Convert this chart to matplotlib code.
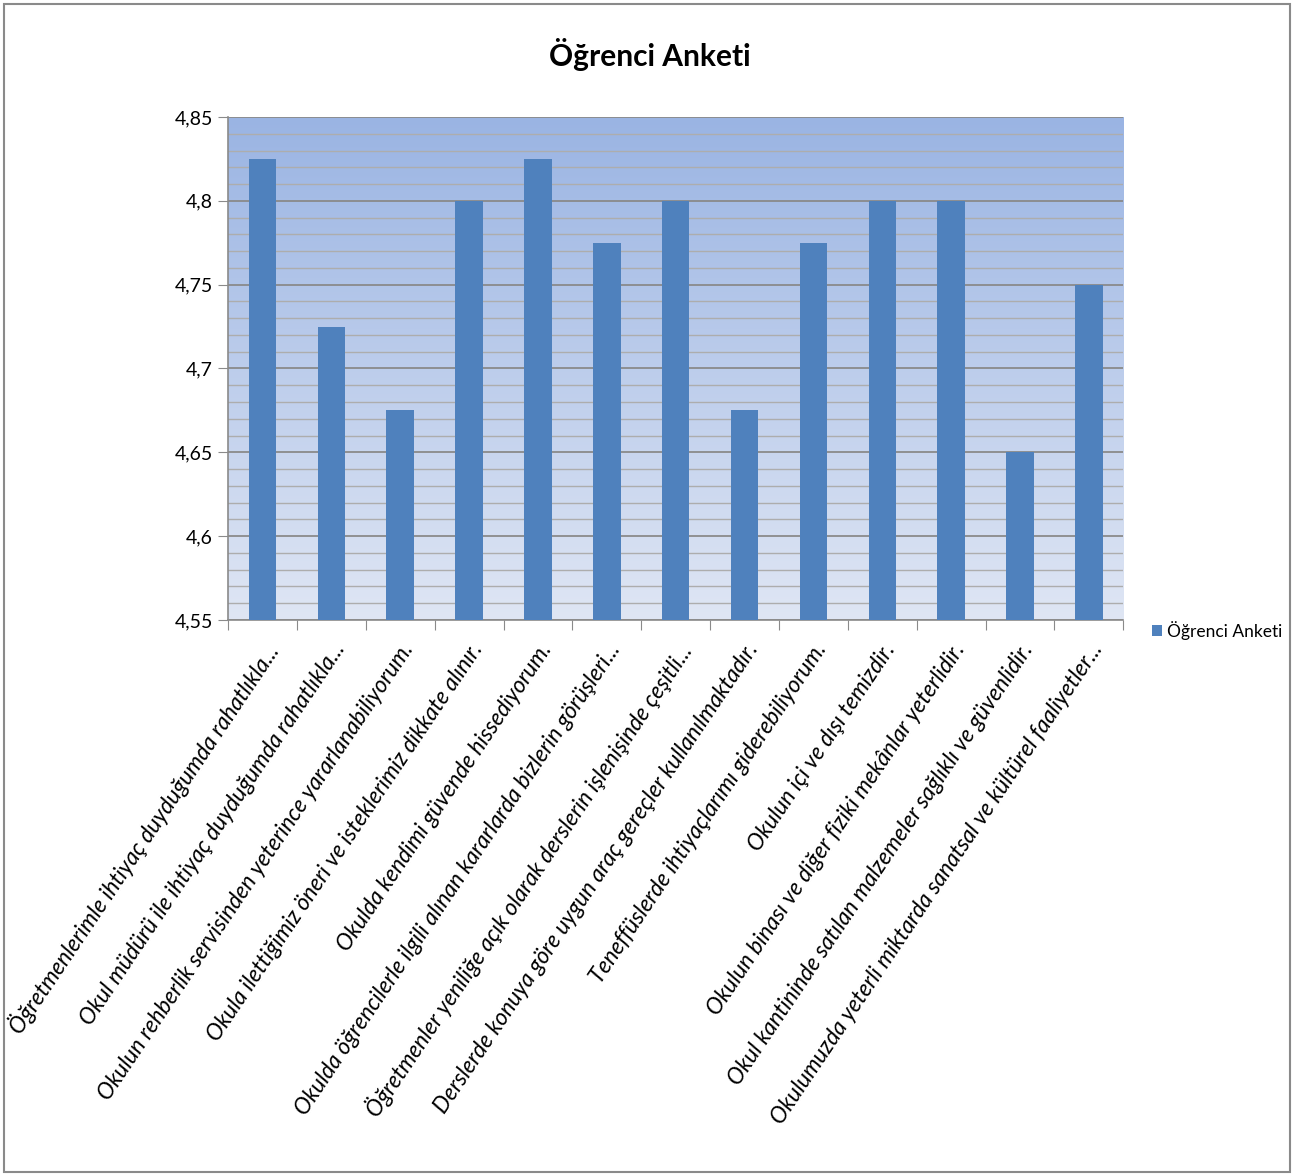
import numpy as np
import matplotlib
matplotlib.use("Agg")
import matplotlib.pyplot as plt
from matplotlib.ticker import MultipleLocator, FuncFormatter
from matplotlib.patches import Rectangle
from matplotlib.colors import LinearSegmentedColormap

# === Veriler ===
sorular = [
    "Öğretmenlerimle ihtiyaç duyduğumda rahatlıkla...",
    "Okul müdürü ile ihtiyaç duyduğumda rahatlıkla...",
    "Okulun rehberlik servisinden yeterince yararlanabiliyorum.",
    "Okula ilettiğimiz öneri ve isteklerimiz dikkate alınır.",
    "Okulda kendimi güvende hissediyorum.",
    "Okulda öğrencilerle ilgili alınan kararlarda bizlerin görüşleri...",
    "Öğretmenler yeniliğe açık olarak derslerin işlenişinde çeşitli...",
    "Derslerde konuya göre uygun araç gereçler kullanılmaktadır.",
    "Teneffüslerde ihtiyaçlarımı giderebiliyorum.",
    "Okulun içi ve dışı temizdir.",
    "Okulun binası ve diğer fiziki mekânlar yeterlidir.",
    "Okul kantininde satılan malzemeler sağlıklı ve güvenlidir.",
    "Okulumuzda yeterli miktarda sanatsal ve kültürel faaliyetler...",
]
puanlar = [4.825, 4.725, 4.675, 4.8, 4.825, 4.775, 4.8, 4.675, 4.775, 4.8, 4.8, 4.65, 4.75]
seri_adi = "Öğrenci Anketi"

font = ["Lato", "DejaVu Sans"]
plt.rcParams["font.family"] = font

fig = plt.figure(figsize=(13.12, 11.76), dpi=100)
ax = fig.add_axes([0.1738, 0.4728, 0.6824, 0.4277])

# gradyan arka plan
grad = np.linspace(0, 1, 256).reshape(-1, 1)
cmap = LinearSegmentedColormap.from_list("bg", ["#9ab4e3", "#dfe6f4"])
ax.imshow(grad, cmap=cmap, aspect="auto", extent=[0, 1, 0, 1],
          transform=ax.transAxes, zorder=0)

x = np.arange(len(puanlar))
ax.bar(x, puanlar, width=0.4, color="#4f81bd", zorder=3, label=seri_adi)

ax.set_xlim(-0.5, len(puanlar) - 0.5)
ax.set_ylim(4.55, 4.85)
ax.yaxis.set_major_locator(MultipleLocator(0.05))
ax.yaxis.set_minor_locator(MultipleLocator(0.01))
ax.yaxis.set_major_formatter(FuncFormatter(lambda v, p: f"{v:.3f}".rstrip("0").rstrip(".").replace(".", ",")))
ax.grid(axis="y", which="major", color="#8a8a8a", linewidth=1.3, zorder=1)
ax.grid(axis="y", which="minor", color="#adadad", linewidth=1.0, zorder=1)
ax.set_axisbelow(True)

for s in ["top", "right"]:
    ax.spines[s].set_visible(False)
for s in ["left", "bottom"]:
    ax.spines[s].set_color("#8a8a8a")
    ax.spines[s].set_linewidth(1.2)

ax.tick_params(axis="y", which="major", length=7, color="#8a8a8a", labelsize=14, pad=4)
ax.tick_params(axis="y", which="minor", length=0)

# x ekseni: kategori sınırlarında çentikler
ax.set_xticks(np.arange(-0.5, len(puanlar), 1.0))
ax.set_xticklabels([])
ax.tick_params(axis="x", which="major", length=7, color="#8a8a8a")
ax.set_xticks(x, minor=True)
ax.set_xticklabels(sorular, minor=True, rotation=56, ha="right", va="top",
                   rotation_mode="anchor", fontsize=16.3, style="italic")
ax.tick_params(axis="x", which="minor", length=0, pad=14)

fig.suptitle(seri_adi, x=0.495, y=0.968, fontsize=21.5, fontweight="bold")

leg = fig.legend(loc="center left", bbox_to_anchor=(0.866, 0.464), frameon=False,
                 handlelength=0.6, handleheight=0.6, handletextpad=0.25,
                 prop={"size": 12.5})

fig.add_artist(Rectangle((0.003, 0.003), 0.98, 0.994, transform=fig.transFigure,
                         fill=False, edgecolor="#8a8a8a", linewidth=1.5))

fig.savefig("out.png", dpi=100)
